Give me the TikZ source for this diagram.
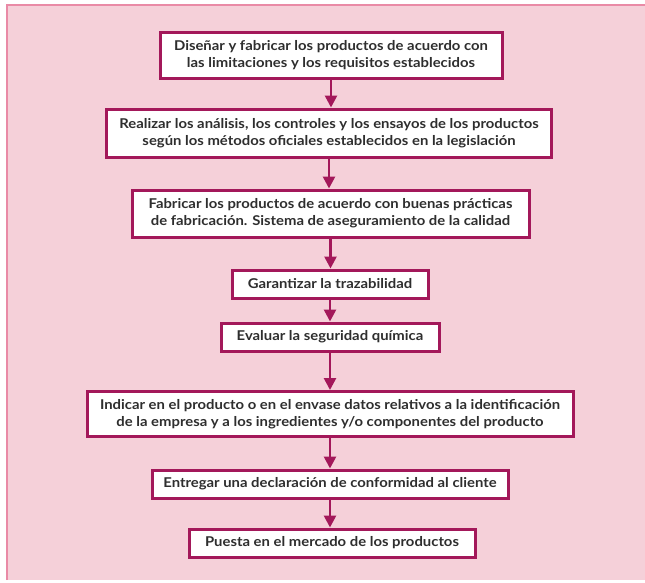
\documentclass[tikz,border=0pt]{standalone}
\usepackage{fontspec}
\setmainfont{Lato}[FakeStretch=1.1]
\usetikzlibrary{arrows.meta}
\definecolor{bgpink}{HTML}{F5D0D9}
\definecolor{framepink}{HTML}{E98AA6}
\definecolor{boxred}{HTML}{A3185A}
\definecolor{txt}{HTML}{2E2E2E}
\tikzset{
  stepbox/.style={draw=boxred, line width=3pt, fill=white, inner sep=0pt,
    align=center, text=txt, font=\bfseries\fontsize{13.5}{17}\selectfont},
  flow/.style={draw=boxred, line width=2.6pt, -{Triangle[length=12pt,width=12pt]}}
}
\begin{document}
\begin{tikzpicture}[x=1pt,y=-1pt]
\useasboundingbox (0,0) rectangle (645,582);
\fill[bgpink] (7,5) rectangle (645,580);
\draw[framepink, line width=2pt] (7,580) -- (7,5) -- (645,5);
\node[stepbox, minimum width=342pt, minimum height=46pt] (b1) at (331,55)
  {Diseñar y fabricar los productos de acuerdo con\\las limitaciones y los requisitos establecidos};
\node[stepbox, minimum width=445pt, minimum height=48pt] (b2) at (329,133)
  {Realizar los análisis, los controles y los ensayos de los productos\\según los métodos oficiales establecidos en la legislación};
\node[stepbox, minimum width=397pt, minimum height=47pt] (b3) at (330.5,213.5)
  {Fabricar los productos de acuerdo con buenas prácticas\\de fabricación. Sistema de aseguramiento de la calidad};
\node[stepbox, minimum width=196pt, minimum height=28pt] (b4) at (330,284)
  {Garantizar la trazabilidad};
\node[stepbox, minimum width=218pt, minimum height=28pt] (b5) at (330,337)
  {Evaluar la seguridad química};
\node[stepbox, minimum width=486pt, minimum height=45pt] (b6) at (330,414)
  {Indicar en el producto o en el envase datos relativos a la identificación\\de la empresa y a los ingredientes y/o componentes del producto};
\node[stepbox, minimum width=356pt, minimum height=28pt] (b7) at (330,484)
  {Entregar una declaración de conformidad al cliente};
\node[stepbox, minimum width=286pt, minimum height=28pt] (b8) at (332,543)
  {Puesta en el mercado de los productos};
\draw[flow] (b1.south) -- (b1.south |- b2.north);
\draw[flow] (b2.south) -- (b2.south |- b3.north);
\draw[flow] (b3.south) -- (b3.south |- b4.north);
\draw[flow] (b4.south) -- (b4.south |- b5.north);
\draw[flow] (b5.south) -- (b5.south |- b6.north);
\draw[flow] (b6.south) -- (b6.south |- b7.north);
\draw[flow] (b7.south) -- (b7.south |- b8.north);
\end{tikzpicture}
\end{document}
